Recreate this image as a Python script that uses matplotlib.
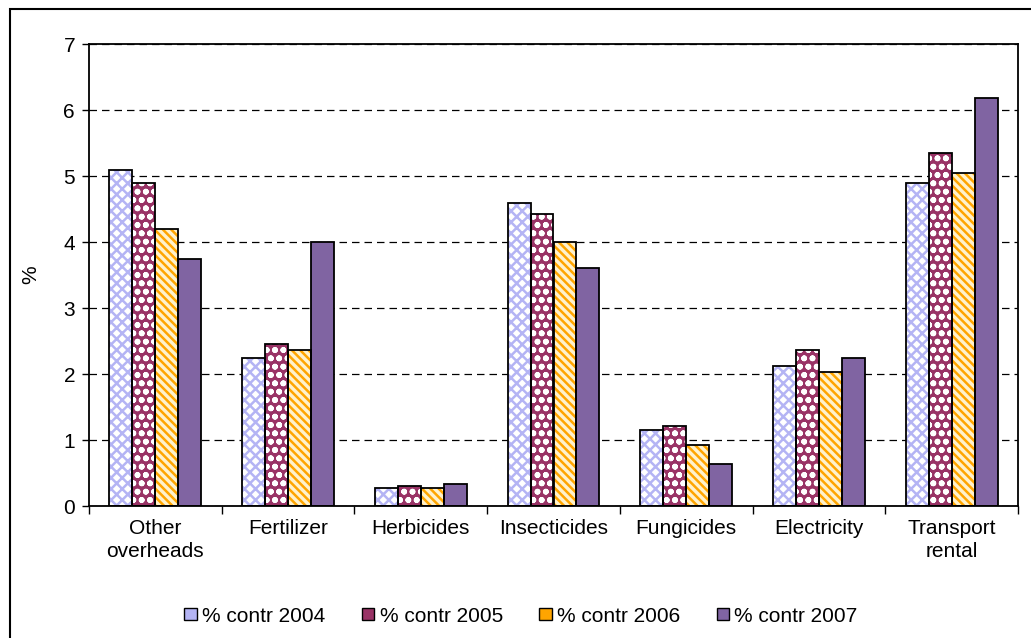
import numpy as np
import matplotlib.pyplot as plt
from matplotlib.patches import Rectangle, Patch

plt.rcParams['font.family'] = ['Liberation Sans', 'DejaVu Sans']
plt.rcParams['hatch.linewidth'] = 1.8

categories = ['Other\noverheads', 'Fertilizer', 'Herbicides', 'Insecticides',
              'Fungicides', 'Electricity', 'Transport\nrental']
series = ['% contr 2004', '% contr 2005', '% contr 2006', '% contr 2007']
v2004 = [5.09, 2.24, 0.27, 4.59, 1.15, 2.12, 4.89]
v2005 = [4.89, 2.45, 0.30, 4.42, 1.21, 2.36, 5.35]
v2006 = [4.20, 2.36, 0.27, 4.00, 0.92, 2.03, 5.05]
v2007 = [3.74, 4.00, 0.33, 3.61, 0.64, 2.24, 6.18]
values = [v2004, v2005, v2006, v2007]

# face, hatch colour, hatch
styles = [('white', '#b4b4f4', 'xxx'),
          ('#993366', 'white', 'oo'),
          ('#fff2cc', '#ffa500', '\\\\\\\\'),
          ('#8064a2', '#8064a2', None)]

fig = plt.figure(figsize=(10.31, 6.38), dpi=100)
ax = fig.add_axes([89/1031, 1-506/638, (1018-89)/1031, (506-44)/638])

x = np.arange(len(categories))
w = 0.173
for i, (vals, (fc, hc, hatch)) in enumerate(zip(values, styles)):
    pos = x + (i - 1.5) * w
    ax.bar(pos, vals, w, color=fc, edgecolor=hc, hatch=hatch, linewidth=0, zorder=2)
    ax.bar(pos, vals, w, fill=False, edgecolor='black', linewidth=1.3, zorder=3)

ax.set_xlim(-0.5, len(categories) - 0.5)
ax.set_ylim(0, 7)
ax.set_yticks(range(8))
ax.yaxis.grid(True, linestyle=(0, (6, 4)), color='black', linewidth=0.9)
ax.set_axisbelow(True)
ax.set_xticks(x)
ax.set_xticklabels(categories, fontsize=15, linespacing=1.3)
ax.tick_params(axis='x', length=0, pad=9)
ax.set_xticks(np.arange(len(categories) + 1) - 0.5, minor=True)
ax.tick_params(axis='x', which='minor', length=6, width=1)
ax.tick_params(axis='y', labelsize=15, length=5, width=1, pad=5)
ax.set_ylabel('%', fontsize=15)
ax.yaxis.set_label_coords(-(89 - 40) / 929, 0.5)
for s in ax.spines.values():
    s.set_linewidth(1.3)

handles = []
for fc, hc, hatch in styles:
    handles.append(Patch(facecolor=fc if fc not in ('white', '#fff2cc') else hc,
                         edgecolor='black', linewidth=1))
leg = fig.legend(handles, series, loc='center', bbox_to_anchor=(521/1031, 1-616/638),
                 ncol=4, frameon=False, fontsize=15, handlelength=0.6, handleheight=0.45,
                 handletextpad=0.25, columnspacing=1.75)

fig.patches.append(Rectangle((10/1031, -0.1), 1.1, 1 - 9/638 + 0.1, transform=fig.transFigure,
                             fill=False, edgecolor='black', linewidth=1.5))

fig.savefig('out.png', dpi=100)
